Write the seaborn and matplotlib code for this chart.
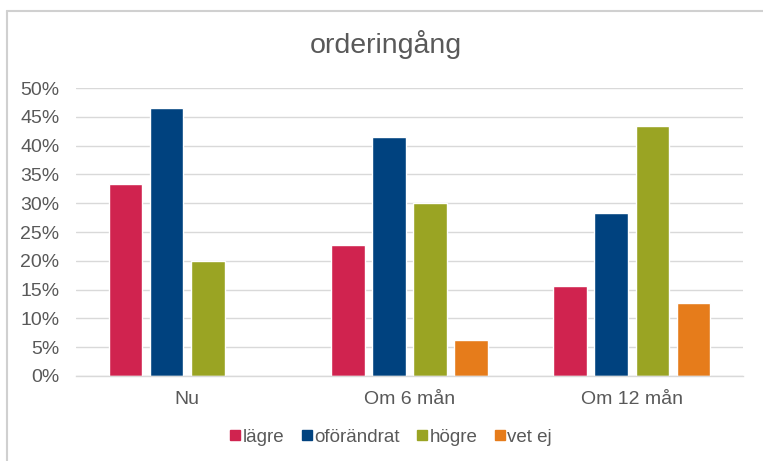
import matplotlib
matplotlib.use("Agg")
import matplotlib.pyplot as plt
import matplotlib.lines as mlines
import pandas as pd
import seaborn as sns

# data
categories = ["Nu", "Om 6 mån", "Om 12 mån"]
series = ["lägre", "oförändrat", "högre", "vet ej"]
lagre = [0.333, 0.227, 0.157]
oforandrat = [0.466, 0.415, 0.283]
hogre = [0.200, 0.300, 0.434]
vet_ej = [0.0, 0.062, 0.126]
colors = ["#D0234F", "#00427F", "#9AA423", "#E67C1B"]
yticks = [0, 0.05, 0.10, 0.15, 0.20, 0.25, 0.30, 0.35, 0.40, 0.45, 0.50]

df = pd.DataFrame({"kategori": categories,
                   "lägre": lagre,
                   "oförändrat": oforandrat,
                   "högre": hogre,
                   "vet ej": vet_ej})
long = df.melt(id_vars="kategori", var_name="svar", value_name="andel")

sns.set_theme(style="white")
plt.rcParams["font.family"] = ["Liberation Sans", "DejaVu Sans"]

grey = "#595959"
fig = plt.figure(figsize=(7.63, 4.61), dpi=100)
ax = fig.add_axes([0.0996, 0.1844, 0.8742, 0.6246])

sns.barplot(data=long, x="kategori", y="andel", hue="svar",
            order=categories, hue_order=series, palette=colors,
            width=0.74, gap=0.18, saturation=1, legend=False, ax=ax)

ax.set_ylim(0, 0.5)
ax.set_yticks(yticks)
ax.set_yticklabels([f"{int(round(t * 100))}%" for t in yticks])
ax.yaxis.grid(True, color="#D9D9D9", linewidth=1)
ax.set_axisbelow(True)
for side in ["left", "right", "top"]:
    ax.spines[side].set_visible(False)
ax.spines["bottom"].set_color("#D9D9D9")
ax.spines["bottom"].set_linewidth(1)
ax.tick_params(axis="y", length=0, pad=12, labelsize=14, labelcolor=grey)
ax.tick_params(axis="x", length=0, pad=11, labelsize=14, labelcolor=grey)
ax.set_xlabel("")
ax.set_ylabel("")

fig.suptitle("orderingång", x=0.505, y=0.935, fontsize=20.5, color=grey)

handles = [mlines.Line2D([], [], marker="s", linestyle="none", markersize=7,
                         markerfacecolor=c, markeredgecolor=c) for c in colors]
fig.legend(handles, series, loc="center", bbox_to_anchor=(0.512, 0.052), ncol=4,
           frameon=False, fontsize=13.5, labelcolor=grey, handletextpad=0.1,
           columnspacing=0.9, handlelength=0.6)

# thin frame around chart area (only top and left visible in the crop)
fig.add_artist(mlines.Line2D([0.0098, 0.0098], [0, 0.977], color="#D0D0D0",
                             linewidth=1.5, transform=fig.transFigure))
fig.add_artist(mlines.Line2D([0.0098, 1], [0.977, 0.977], color="#D0D0D0",
                             linewidth=1.5, transform=fig.transFigure))

fig.savefig("out.png", dpi=100)
